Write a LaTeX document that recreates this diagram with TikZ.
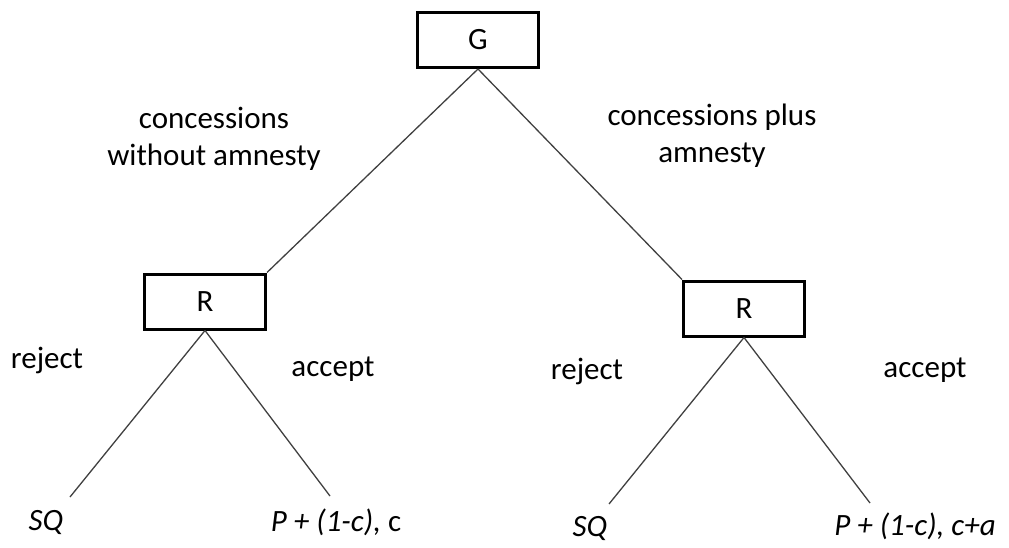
\documentclass[tikz,border=0pt]{standalone}
\usepackage{fontspec}
\setmainfont{Carlito}
\begin{document}
\begin{tikzpicture}[x=1pt,y=-1pt,
  player/.style={draw=black,line width=3pt,minimum width=121pt,minimum height=55pt,inner sep=0pt,font=\fontsize{31}{36}\selectfont},
  lbl/.style={font=\fontsize{31}{37}\selectfont,align=center,inner sep=0pt},
  edge/.style={draw=black!75,line width=1.3pt}]
\useasboundingbox (0,0) rectangle (1009,548);
\node[player] (G) at (478,40) {G};
\node[player] (R1) at (205,301.5) {R};
\node[player] (R2) at (744,308.5) {R};
\coordinate (L1) at (70,497);
\coordinate (L2) at (330,496);
\coordinate (L3) at (609,504);
\coordinate (L4) at (870,503);
\draw[edge] (G.south) -- (R1.north east);
\draw[edge] (G.south) -- (R2.north west);
\draw[edge] (R1.south) -- (L1);
\draw[edge] (R1.south) -- (L2);
\draw[edge] (R2.south) -- (L3);
\draw[edge] (R2.south) -- (L4);
\node[lbl] (t1) at (214,139) {concessions\\without amnesty};
\node[lbl] (t2) at (712,136) {concessions plus\\amnesty};
\node[lbl] (r1) at (47,360) {reject};
\node[lbl] (a1) at (333,369) {accept};
\node[lbl] (r2) at (587,371) {reject};
\node[lbl] (a2) at (925,370) {accept};
\node[lbl] (o1) at (46,522) {\itshape SQ};
\node[lbl] (o2) at (336,522) {\itshape P + (1-c), \upshape c};
\node[lbl] (o3) at (590,528) {\itshape SQ};
\node[lbl] (o4) at (915,526) {\itshape P + (1-c), c+a};
\end{tikzpicture}
\end{document}
